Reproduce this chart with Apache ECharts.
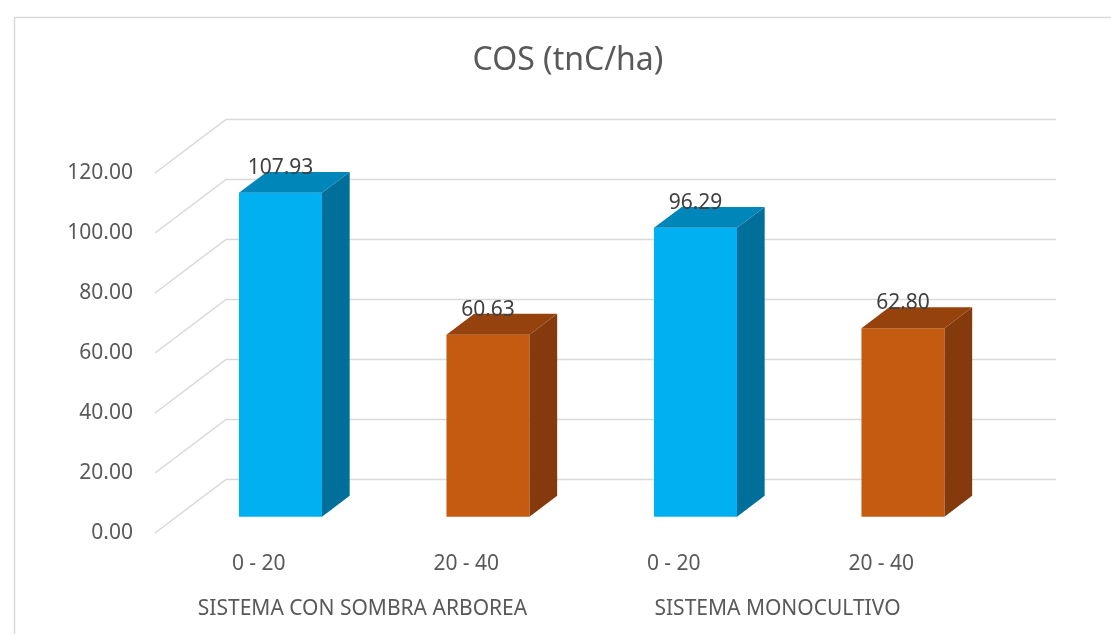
<!DOCTYPE html>
<html>
<head>
<meta charset="utf-8">
<script src="https://cdn.jsdelivr.net/npm/echarts@6/dist/echarts.min.js"></script>
<style>
  html, body { margin: 0; padding: 0; background: #fff; }
  #main { width: 1111px; height: 634px; }
</style>
</head>
<body>
<div id="main"></div>
<script>
// datos del grafico COS
var categorias = ["0 - 20", "20 - 40", "0 - 20", "20 - 40"];
var grupos = ["SISTEMA CON SOMBRA ARBOREA", "SISTEMA MONOCULTIVO"];
var valores = [107.93, 60.63, 96.29, 62.80];
var tipoBarra = [0, 1, 0, 1]; // 0 = azul, 1 = naranja
var ticksY = [0, 20, 40, 60, 80, 100, 120];

// colores de las caras: frente, arriba, lado
var caras = [
  { front: "#00B0F0", top: "#0086B8", side: "#006F99" },
  { front: "#C55A11", top: "#96420C", side: "#843A0C" }
];

// vector de profundidad (perspectiva tipo Excel)
var DX = 71, DY = -53.5;
var F0 = 0.306, F1 = 0.696;

var myChart = echarts.init(document.getElementById("main"));

function renderPared(params, api) {
  var cs = params.coordSys;
  var v = api.value(1);
  var y = api.coord([0, v])[1];
  var x0 = cs.x;
  var x1 = cs.x + cs.width;
  var estilo = { stroke: "#D9D9D9", lineWidth: 1.5, fill: null };
  return {
    type: "polyline",
    shape: { points: [[x0, y], [x0 + DX, y + DY], [x1 + DX, y + DY]] },
    style: estilo
  };
}

function renderBarra(params, api) {
  var i = api.value(0);
  var v = api.value(1);
  var c = caras[api.value(2)];
  var base = api.coord([i, 0]);
  var top = api.coord([i, v]);
  var w = api.size([1, 0])[0] * 0.4;
  var ox = DX * F0, oy = DY * F0;
  var dx = DX * (F1 - F0), dy = DY * (F1 - F0);
  var l = base[0] - w / 2 + ox, r = base[0] + w / 2 + ox;
  var t = top[1] + oy, b = base[1] + oy;
  return {
    type: "group",
    children: [
      { type: "rect", shape: { x: l, y: t, width: r - l, height: b - t }, style: { fill: c.front } },
      { type: "polygon", shape: { points: [[r, t], [r + dx, t + dy], [r + dx, b + dy], [r, b]] }, style: { fill: c.side } },
      { type: "polygon", shape: { points: [[l, t], [r, t], [r + dx, t + dy], [l + dx, t + dy]] }, style: { fill: c.top } },
      {
        type: "text",
        style: {
          text: v.toFixed(2), x: (l + r) / 2, y: t - 25,
          align: "center", verticalAlign: "middle",
          fill: "#404040", font: "21px 'Noto Sans'"
        }
      }
    ]
  };
}

myChart.setOption({
  animation: false,
  graphic: [
    { type: "rect", left: 12, top: 15, shape: { width: 1200, height: 700 }, style: { fill: null, stroke: "#D9D9D9", lineWidth: 1.5 } },
    {
      type: "text", x: 568, y: 61,
      style: { text: "COS (tnC/ha)", align: "center", verticalAlign: "middle", fill: "#595959", font: "32px 'Noto Sans'" }
    }
  ],
  grid: { left: 155, right: 126, top: 173, bottom: 101 },
  xAxis: [
    {
      type: "category",
      data: categorias,
      axisLine: { show: false },
      axisTick: { show: false },
      axisLabel: { interval: 0, margin: 21, color: "#595959", fontSize: 21, fontFamily: "Noto Sans" }
    },
    {
      type: "category",
      data: grupos,
      position: "bottom",
      offset: 45,
      axisLine: { show: false },
      axisTick: { show: false },
      axisLabel: { interval: 0, hideOverlap: false, margin: 21, color: "#595959", fontSize: 21, fontFamily: "Noto Sans" }
    }
  ],
  yAxis: {
    type: "value",
    min: 0,
    max: 120,
    interval: 20,
    axisLine: { show: false },
    axisTick: { show: false },
    splitLine: { show: false },
    axisLabel: {
      margin: 22,
      color: "#595959",
      fontSize: 21,
      fontFamily: "Noto Sans",
      formatter: function (v) { return v.toFixed(2); }
    }
  },
  series: [
    {
      type: "custom",
      name: "pared",
      renderItem: renderPared,
      data: ticksY.map(function (t) { return [0, t]; }),
      silent: true,
      z: 1
    },
    {
      type: "custom",
      name: "COS",
      renderItem: renderBarra,
      data: valores.map(function (v, i) { return [i, v, tipoBarra[i]]; }),
      z: 2
    }
  ]
});
</script>
</body>
</html>
